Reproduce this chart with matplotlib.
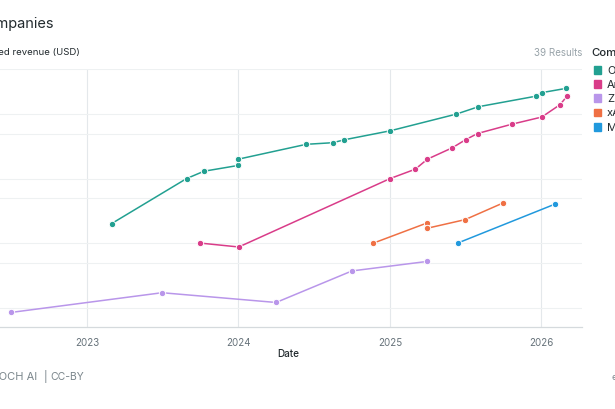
# Annualized revenue of AI companies (cropped view)
import numpy as np
import pandas as pd
import matplotlib
matplotlib.use("Agg")
import matplotlib.pyplot as plt
from matplotlib.patches import Rectangle

plt.rcParams['font.family'] = ['Inter', 'DejaVu Sans']

# data, revenue in USD
openai_dates = ["2023-03-01", "2023-08-29", "2023-10-10", "2024-01-01", "2024-01-01",
                "2024-06-13", "2024-08-16", "2024-09-13", "2025-01-01", "2025-06-10",
                "2025-08-02", "2025-12-20", "2026-01-02", "2026-03-01"]
openai_rev = [0.2e9, 1.0e9, 1.3e9, 1.6e9, 2.0e9, 3.4e9, 3.6e9, 4.0e9, 5.5e9, 10e9,
              13e9, 19e9, 21.5e9, 25e9]

anthropic_dates = ["2023-10-01", "2024-01-02", "2025-01-01", "2025-03-03", "2025-04-01",
                   "2025-05-31", "2025-07-02", "2025-07-31", "2025-10-23", "2026-01-02",
                   "2026-02-15", "2026-03-04"]
anthropic_rev = [100e6, 87e6, 1.0e9, 1.4e9, 2.0e9, 3.0e9, 4.0e9, 5.0e9, 7.0e9, 9.0e9,
                 14e9, 19e9]

zai_dates = ["2022-07-01", "2023-07-01", "2024-04-01", "2024-10-01", "2025-04-01"]
zai_rev = [8.4e6, 17e6, 12e6, 37e6, 52e6]

xai_dates = ["2024-11-22", "2025-04-01", "2025-04-01", "2025-07-01", "2025-10-01"]
xai_rev = [100e6, 206e6, 170e6, 231e6, 420e6]

mistral_dates = ["2025-06-13", "2026-02-02"]
mistral_rev = [100e6, 400e6]

companies = ["OpenAI", "Anthropic", "Z.ai", "xAI", "Mistral AI"]
colors = ["#22a091", "#d93c89", "#b996ea", "#ef7044", "#2199dd"]
series = [(openai_dates, openai_rev), (anthropic_dates, anthropic_rev),
          (zai_dates, zai_rev), (xai_dates, xai_rev), (mistral_dates, mistral_rev)]

year_ticks = ["2023", "2024", "2025", "2026"]
grid_vals = [1e7, 5e7, 1e8, 5e8, 1e9, 5e9, 1e10, 5e10]

W, H = 615, 410
def fx(x):
    return x / W
def fy(y):
    return 1 - y / H

fig = plt.figure(figsize=(6.15, 4.10), dpi=100)
fig.patch.set_facecolor("white")
ax = fig.add_axes([0, fy(328), fx(582), (328 - 70) / H])

for (d, v), c in zip(series, colors):
    ax.plot(pd.to_datetime(d), v, color=c, lw=1.1, marker="o", ms=4.6,
            mfc=c, mec="white", mew=0.7, zorder=3)

ax.set_yscale("log")
ax.set_ylim(5.0e6, 4.35e10)
ax.set_xlim(pd.Timestamp("2022-06-05"), pd.Timestamp("2026-04-09"))
ax.set_yticks(grid_vals)
ax.set_yticklabels([])
ax.yaxis.set_minor_locator(matplotlib.ticker.NullLocator())
ax.tick_params(axis="y", length=0)
ax.set_xticks(pd.to_datetime([y + "-01-01" for y in year_ticks]))
ax.set_xticklabels(year_ticks)
ax.tick_params(axis="x", length=0, labelcolor="#66727a", labelsize=7, pad=7)
ax.grid(True, axis="y", color="#eef1f2", lw=0.8)
ax.grid(True, axis="x", color="#e4e8eb", lw=0.8)
ax.set_axisbelow(True)
for s in ["left", "right", "top"]:
    ax.spines[s].set_visible(False)
ax.spines["bottom"].set_color("#d5dadd")
ax.spines["bottom"].set_linewidth(0.9)

# texts (left part of the original figure is cropped)
fig.text(fx(54), fy(24), "AI Companies", ha="right", va="center",
         fontsize=10.5, color="#222a2e")
fig.text(fx(80), fy(53), "Annualized revenue (USD)", ha="right", va="center",
         fontsize=6.9, color="#222a2e")
fig.text(fx(582), fy(53), "39 Results", ha="right", va="center",
         fontsize=7, color="#98a3a9")
fig.text(fx(591.5), fy(53), "Company", ha="left", va="center",
         fontsize=8.2, color="#222a2e", fontweight="medium")
fig.text(fx(288), fy(354), "Date", ha="center", va="center",
         fontsize=7.2, color="#222a2e", fontweight="medium")
fig.text(fx(37), fy(377), "EPOCH AI", ha="right", va="center",
         fontsize=8, color="#7b868c")
fig.text(fx(44), fy(377), "|", ha="left", va="center", fontsize=8, color="#7b868c")
fig.text(fx(50), fy(377), "CC-BY", ha="left", va="center", fontsize=7.5, color="#7b868c")
fig.text(fx(611), fy(378), "epoch.ai", ha="left", va="center",
         fontsize=6.5, color="#7b868c")

# legend
row_y = [70.7, 84.7, 99, 113.3, 127.7]
for name, c, ry in zip(companies, colors, row_y):
    fig.add_artist(Rectangle((fx(593.5), fy(ry + 3.8)), 7.5 / W, 7.5 / H,
                             color=c, transform=fig.transFigure))
    fig.text(fx(607), fy(ry), name, ha="left", va="center", fontsize=8,
             color="#222a2e")

fig.savefig("out.png", dpi=100)
